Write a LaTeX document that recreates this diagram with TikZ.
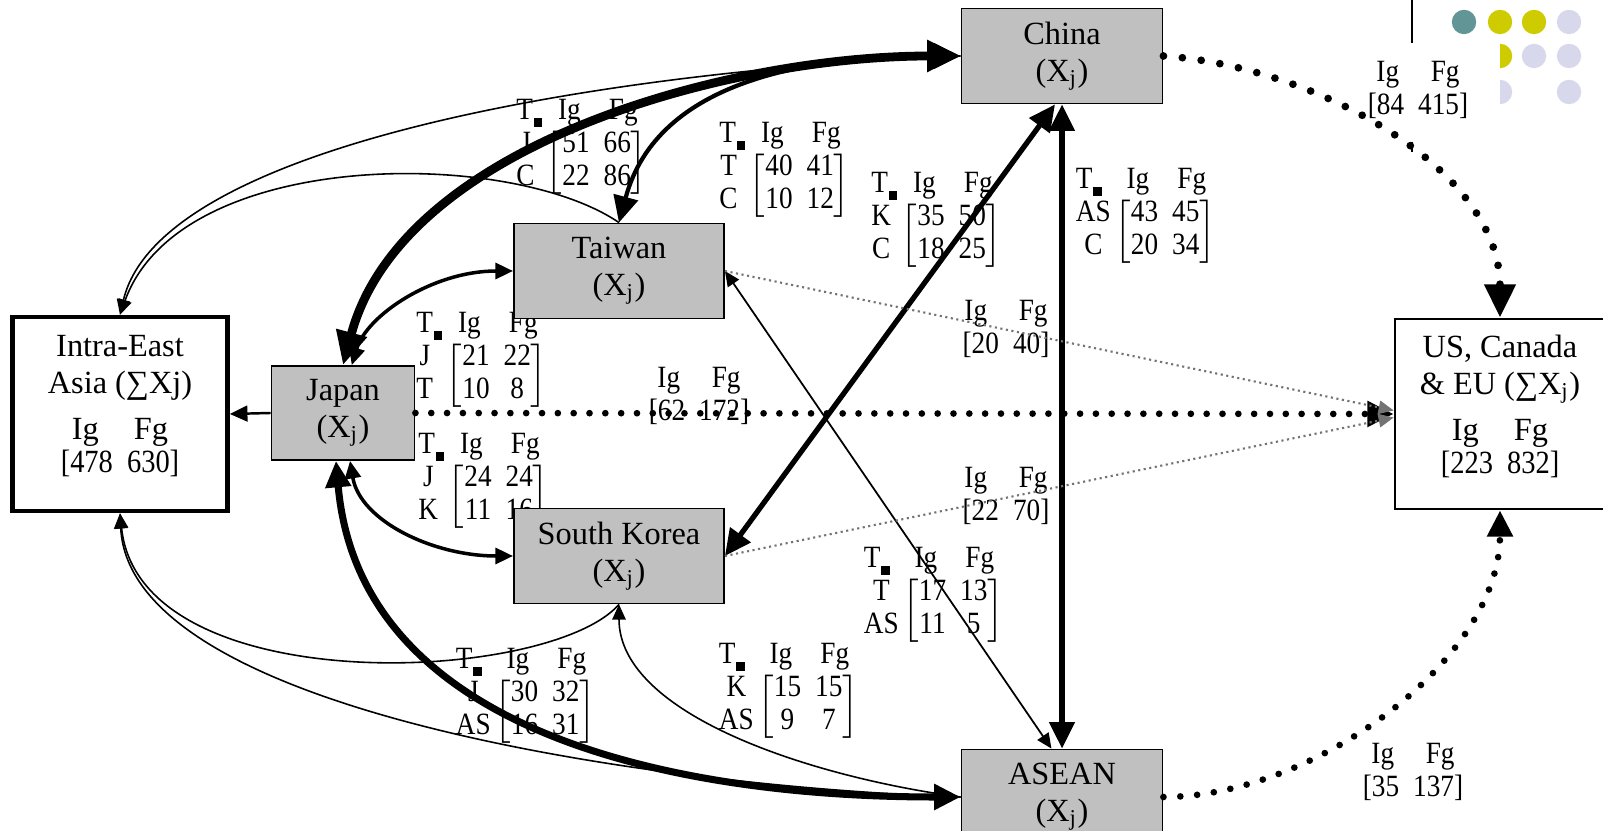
\documentclass[tikz,border=0pt]{standalone}
\usepackage{fontspec}
\setmainfont{Liberation Serif}
\newfontfamily\labfamily{Liberation Serif}[FakeStretch=0.88]
\usetikzlibrary{arrows.meta}

\definecolor{boxgray}{RGB}{192,192,192}
\definecolor{dotteal}{RGB}{98,150,150}
\definecolor{dotyellow}{RGB}{206,204,0}
\definecolor{dotlilac}{RGB}{216,216,236}

\newcommand{\boxfont}{\fontsize{9.2}{10.5}\selectfont}
\newcommand{\labfont}{\labfamily\fontsize{8.8}{9.4}\selectfont}
\newcommand{\tsub}{T\kern.2pt\raisebox{-2pt}{\rule{2.4pt}{2.4pt}}}
\newcommand{\flowmat}[6]{%
  \begin{tabular}{@{}l@{\hspace{1pt}}l@{}}
    \tsub & \hspace{3.5pt}Ig\hspace{8pt}Fg\\
    \begin{tabular}{@{}c@{}}#1\\#2\end{tabular} &
    $\left[\mbox{\begin{tabular}{@{}c@{\hspace{4pt}}c@{}}#3&#4\\#5&#6\end{tabular}}\right]$
  \end{tabular}}
\newcommand{\pairlab}[2]{%
  \begin{tabular}{@{}c@{}}Ig\hspace{9pt}Fg\\{[}#1\hspace{4pt}#2{]}\end{tabular}}

\tikzset{
  country/.style={draw, line width=0.5pt, fill=boxgray, align=center, inner sep=0pt,
    minimum width=2.1cm, minimum height=0.95cm, font=\boxfont},
  region/.style={draw, fill=white, align=center, inner sep=0pt, font=\boxfont},
  flowlab/.style={inner sep=0pt, font=\labfont},
  thinflow/.style={line width=0.45pt},
  bigdots/.style={line width=1.9pt, line cap=round, dash pattern=on 0pt off 4.5pt},
  hugedots/.style={line width=2.2pt, line cap=round, dash pattern=on 0pt off 5.4pt},
  meddots/.style={line width=1.9pt, line cap=round, dash pattern=on 0pt off 4.8pt},
  finedots/.style={draw=black!55, line width=0.6pt, densely dotted},
  hugehead/.tip={Triangle[length=9.5pt,width=8.5pt]},
  bighead/.tip={Triangle[length=7.5pt,width=7pt]},
  midhead/.tip={Triangle[length=5pt,width=4.5pt]},
  smallhead/.tip={Triangle[length=4.3pt,width=3.8pt]},
}

\begin{document}
\begin{tikzpicture}[x=0.01cm, y=0.01cm]
\useasboundingbox (0,0) rectangle (1603,-831);

% flow labels
\node[flowlab] (lab-jc) at (582,-146) {\flowmat{J}{C}{51}{66}{22}{86}};
\node[flowlab] (lab-tc) at (785,-169) {\flowmat{T}{C}{40}{41}{10}{12}};
\node[flowlab] (lab-kc) at (937,-219) {\flowmat{K}{C}{35}{50}{18}{25}};
\node[flowlab] (lab-ac) at (1146,-215) {\flowmat{AS}{C}{43}{45}{20}{34}};
\node[flowlab] (lab-jt) at (482,-359) {\flowmat{J}{T}{21}{22}{10}{8}};
\node[flowlab] (lab-jk) at (484,-480) {\flowmat{J}{K}{24}{24}{11}{16}};
\node[flowlab] (lab-ta) at (934,-594) {\flowmat{T}{AS}{17}{13}{11}{5}};
\node[flowlab] (lab-ja) at (526,-695) {\flowmat{J}{AS}{30}{32}{16}{31}};
\node[flowlab] (lab-ka) at (789,-690) {\flowmat{K}{AS}{15}{15}{9}{7}};
\node[flowlab] (lab-jus) at (699,-397) {\pairlab{62}{172}};
\node[flowlab] (lab-tus) at (1006,-330) {\pairlab{20}{40}};
\node[flowlab] (lab-kus) at (1006,-497) {\pairlab{22}{70}};
\node[flowlab] (lab-cus) at (1418,-91) {\pairlab{84}{415}};
\node[flowlab] (lab-aus) at (1413,-773) {\pairlab{35}{137}};

% regions and countries
\node[region, line width=1.3pt, minimum width=2.15cm, minimum height=1.94cm] (intra) at (120,-414)
  {Intra-East\\Asia (∑Xj)\\[2.5pt]Ig\hspace{10pt}Fg\\[-1pt]{\labfamily[478\hspace{4pt}630]}\\[-5pt]\mbox{}};
\node[region, line width=0.7pt, minimum width=2.1cm, minimum height=1.9cm] (us) at (1500,-414)
  {US, Canada\\\& EU (∑X\textsubscript{j})\\[2.5pt]Ig\hspace{10pt}Fg\\[-1pt]{\labfamily[223\hspace{4pt}832]}\\[-5pt]\mbox{}};
\node[country, minimum width=1.43cm, minimum height=0.94cm] (japan) at (343,-413) {Japan\\(X\textsubscript{j})};
\node[country] (taiwan) at (619,-271) {Taiwan\\(X\textsubscript{j})};
\node[country] (sk) at (619,-556) {South Korea\\(X\textsubscript{j})};
\node[country, minimum width=2.01cm] (china) at (1062,-56) {China\\(X\textsubscript{j})};
\node[country, minimum width=2.01cm] (asean) at (1062,-797) {ASEAN\\(X\textsubscript{j})};

% flows into intra-east asia
\draw[line width=0.7pt, -midhead] (japan.west) -- (intra.east);
\draw[thinflow, -smallhead] (china.west) .. controls +(-360,-15) and +(40,170) .. (intra.north);
\draw[thinflow, -smallhead] (taiwan.north) .. controls +(-110,75) and +(60,167) .. (intra.north);
\draw[thinflow, -smallhead] (sk.south) .. controls +(-70,-80) and +(20,-189) .. (intra.south);
\draw[thinflow, -smallhead] (asean.west) .. controls +(-300,10) and +(10,-200) .. (intra.south);
\draw[thinflow, -smallhead] (asean.west) .. controls +(-150,20) and +(0,-110) .. (sk.south);

% flows between the economies
\draw[line width=2.5pt, hugehead-hugehead] (japan.north) to[out=75, in=180, looseness=0.85] (china.west);
\draw[line width=1.2pt, bighead-bighead] (taiwan.north) to[out=75, in=180] (china.west);
\draw[line width=1pt, midhead-midhead] ([xshift=2.5pt]japan.north) .. controls +(15,50) and +(-80,0) .. (taiwan.west);
\draw[line width=1pt, midhead-midhead] ([xshift=2pt]japan.south) .. controls +(10,-60) and +(-80,0) .. (sk.west);
\draw[line width=2pt, bighead-bighead] ([xshift=-2pt]japan.south) to[out=-85, in=180] (asean.west);
\draw[line width=1.5pt, bighead-bighead] (china.south) -- (asean.north);
\draw[line width=1.5pt, bighead-bighead] (sk.east) -- ([xshift=-2pt]china.south);
\draw[line width=0.5pt, smallhead-smallhead] (taiwan.east) -- ([xshift=-3pt]asean.north);

% flows to us, canada and eu
\draw[bigdots, -bighead] (japan.east) -- (us.west);
\draw[finedots, -smallhead] (taiwan.east) -- ([yshift=1pt]us.west);
\draw[finedots, -smallhead] (sk.east) -- ([yshift=-1pt]us.west);
\draw[hugedots, -hugehead] (china.east) .. controls +(150,-10) and +(0,150) .. (us.north);
\draw[meddots, -bighead] (asean.east) .. controls +(150,0) and +(0,-150) .. (us.south);

% slide decoration
\draw[line width=0.6pt] (1412,0) -- (1412,-43);
\draw[line width=0.6pt] (1412,-142) -- (1412,-152);
\fill[dotteal] (1464,-22) circle (0.122cm);
\fill[dotyellow] (1500,-22) circle (0.122cm);
\fill[dotyellow] (1534,-22) circle (0.122cm);
\fill[dotlilac] (1569,-22) circle (0.122cm);
\fill[dotyellow] (1500,-43.8) arc[start angle=90, end angle=-90, radius=0.122cm] -- cycle;
\fill[dotlilac] (1534,-56) circle (0.122cm);
\fill[dotlilac] (1569,-56) circle (0.122cm);
\fill[dotlilac] (1500,-79.8) arc[start angle=90, end angle=-90, radius=0.122cm] -- cycle;
\fill[dotlilac] (1569,-92) circle (0.122cm);
\end{tikzpicture}
\end{document}
